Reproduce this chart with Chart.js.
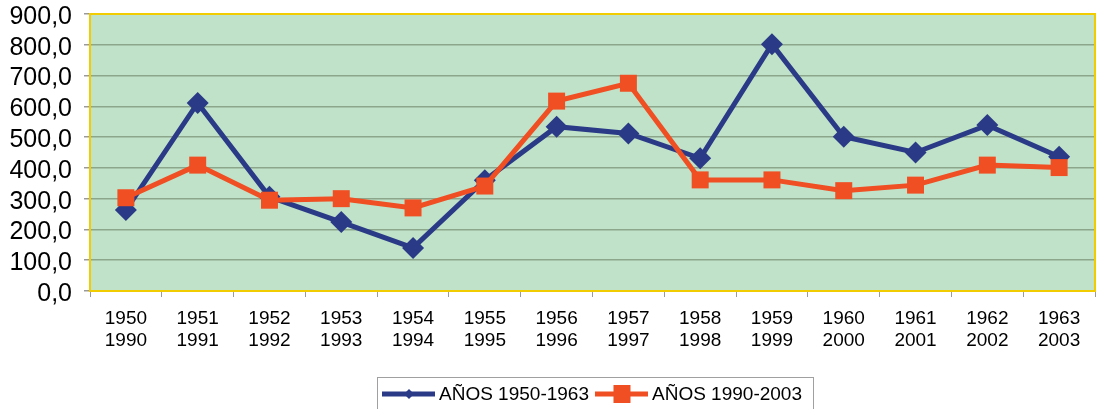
<!DOCTYPE html>
<html>
<head>
<meta charset="utf-8">
<script src="https://cdn.jsdelivr.net/npm/chart.js@4.4.1/dist/chart.umd.min.js"></script>
<style>
  html, body { margin: 0; padding: 0; background: #fff; }
  #wrap { width: 1107px; height: 409px; position: relative; }
</style>
</head>
<body>
<div id="wrap"><canvas id="chart" width="1107" height="409"></canvas></div>
<script>
// Data
const yearsA = ['1950', '1951', '1952', '1953', '1954', '1955', '1956', '1957', '1958', '1959', '1960', '1961', '1962', '1963'];
const yearsB = ['1990', '1991', '1992', '1993', '1994', '1995', '1996', '1997', '1998', '1999', '2000', '2001', '2002', '2003'];
const seriesA = [263, 611, 306, 224, 140, 360, 534, 512, 431, 802, 501, 450, 539, 436];
const seriesB = [303, 409, 295, 300, 270, 341, 617, 675, 361, 361, 326, 344, 409, 401];
const labelA = 'AÑOS 1950-1963';
const labelB = 'AÑOS 1990-2003';

const BLUE = '#2b3a87';
const ORANGE = '#f04e23';
const PLOT_BG = '#c0e2c8';
const FRAME = '#f0cc00';
const FONT = '"Liberation Sans", Arial, sans-serif';

const labels = yearsA.map((y, i) => [y, yearsB[i]]);

// plot background + yellow frame
const plotFrame = {
  id: 'plotFrame',
  beforeDraw(chart) {
    const { ctx, chartArea: a } = chart;
    ctx.save();
    ctx.fillStyle = PLOT_BG;
    ctx.fillRect(a.left, a.top, a.right - a.left, a.bottom - a.top);
    ctx.restore();
  },
  afterDatasetsDraw(chart) {
    const { ctx, chartArea: a } = chart;
    ctx.save();
    ctx.strokeStyle = FRAME;
    ctx.lineWidth = 2;
    ctx.strokeRect(a.left, a.top, a.right - a.left, a.bottom - a.top);
    ctx.restore();
  }
};

// legend drawn by hand: line with marker in the middle
const lineLegend = {
  id: 'lineLegend',
  afterDraw(chart) {
    const { ctx } = chart;
    const ds = chart.data.datasets;
    ctx.save();
    ctx.strokeStyle = '#a0a0a0';
    ctx.lineWidth = 1;
    ctx.strokeRect(377.5, 377.5, 436, 40);
    ctx.font = '19px ' + FONT;
    ctx.textBaseline = 'middle';
    let x = 382;
    const y = 394;
    ds.forEach((d, i) => {
      ctx.strokeStyle = d.borderColor;
      ctx.lineWidth = 5;
      ctx.beginPath();
      ctx.moveTo(x, y);
      ctx.lineTo(x + 53, y);
      ctx.stroke();
      ctx.fillStyle = d.borderColor;
      const cx = x + 27;
      if (d.pointStyle === 'rectRot') {
        ctx.beginPath();
        ctx.moveTo(cx - 5, y);
        ctx.lineTo(cx, y - 5);
        ctx.lineTo(cx + 5, y);
        ctx.lineTo(cx, y + 5);
        ctx.closePath();
        ctx.fill();
      } else {
        ctx.fillRect(cx - 8.5, y - 9, 17, 18);
      }
      ctx.fillStyle = '#000';
      ctx.fillText(d.label, x + 57, y + 1);
      x += 57 + ctx.measureText(d.label).width + 6;
    });
    ctx.restore();
  }
};

new Chart(document.getElementById('chart'), {
  type: 'line',
  data: {
    labels: labels,
    datasets: [
      {
        label: labelA,
        data: seriesA,
        borderColor: BLUE,
        backgroundColor: BLUE,
        borderWidth: 5,
        pointStyle: 'rectRot',
        pointRadius: 11,
        pointHoverRadius: 11,
        pointBorderWidth: 0,
        tension: 0,
        order: 2
      },
      {
        label: labelB,
        data: seriesB,
        borderColor: ORANGE,
        backgroundColor: ORANGE,
        borderWidth: 5,
        pointStyle: 'rect',
        pointRadius: 12,
        pointHoverRadius: 12,
        pointBorderWidth: 0,
        tension: 0,
        order: 1
      }
    ]
  },
  options: {
    responsive: false,
    animation: false,
    layout: { padding: { left: 0, top: 14, right: 10, bottom: 0 } },
    scales: {
      x: {
        offset: true,
        afterFit(scale) {
          scale.height = 118;
          scale.paddingLeft = 0;
          scale.paddingRight = 0;
        },
        grid: {
          offset: true,
          drawOnChartArea: false,
          drawTicks: true,
          tickLength: 6,
          tickColor: '#9a9a9a'
        },
        border: { color: FRAME, width: 2 },
        ticks: {
          color: '#000',
          font: { family: FONT, size: 19 },
          padding: 10,
          maxRotation: 0,
          autoSkip: false
        }
      },
      y: {
        min: 0,
        max: 900,
        afterFit(scale) {
          scale.width = 90;
          scale.paddingTop = 0;
          scale.paddingBottom = 0;
        },
        grid: {
          color: '#8ca68c',
          lineWidth: 1.5,
          tickColor: '#9a9a9a',
          tickLength: 6
        },
        border: { color: FRAME, width: 2 },
        ticks: {
          stepSize: 100,
          autoSkip: false,
          color: '#000',
          font: { family: FONT, size: 25 },
          padding: 12,
          labelOffset: 3,
          callback: v => v.toFixed(1).replace('.', ',')
        }
      }
    },
    plugins: {
      legend: { display: false },
      tooltip: { enabled: false }
    }
  },
  plugins: [plotFrame, lineLegend]
});
</script>
</body>
</html>
